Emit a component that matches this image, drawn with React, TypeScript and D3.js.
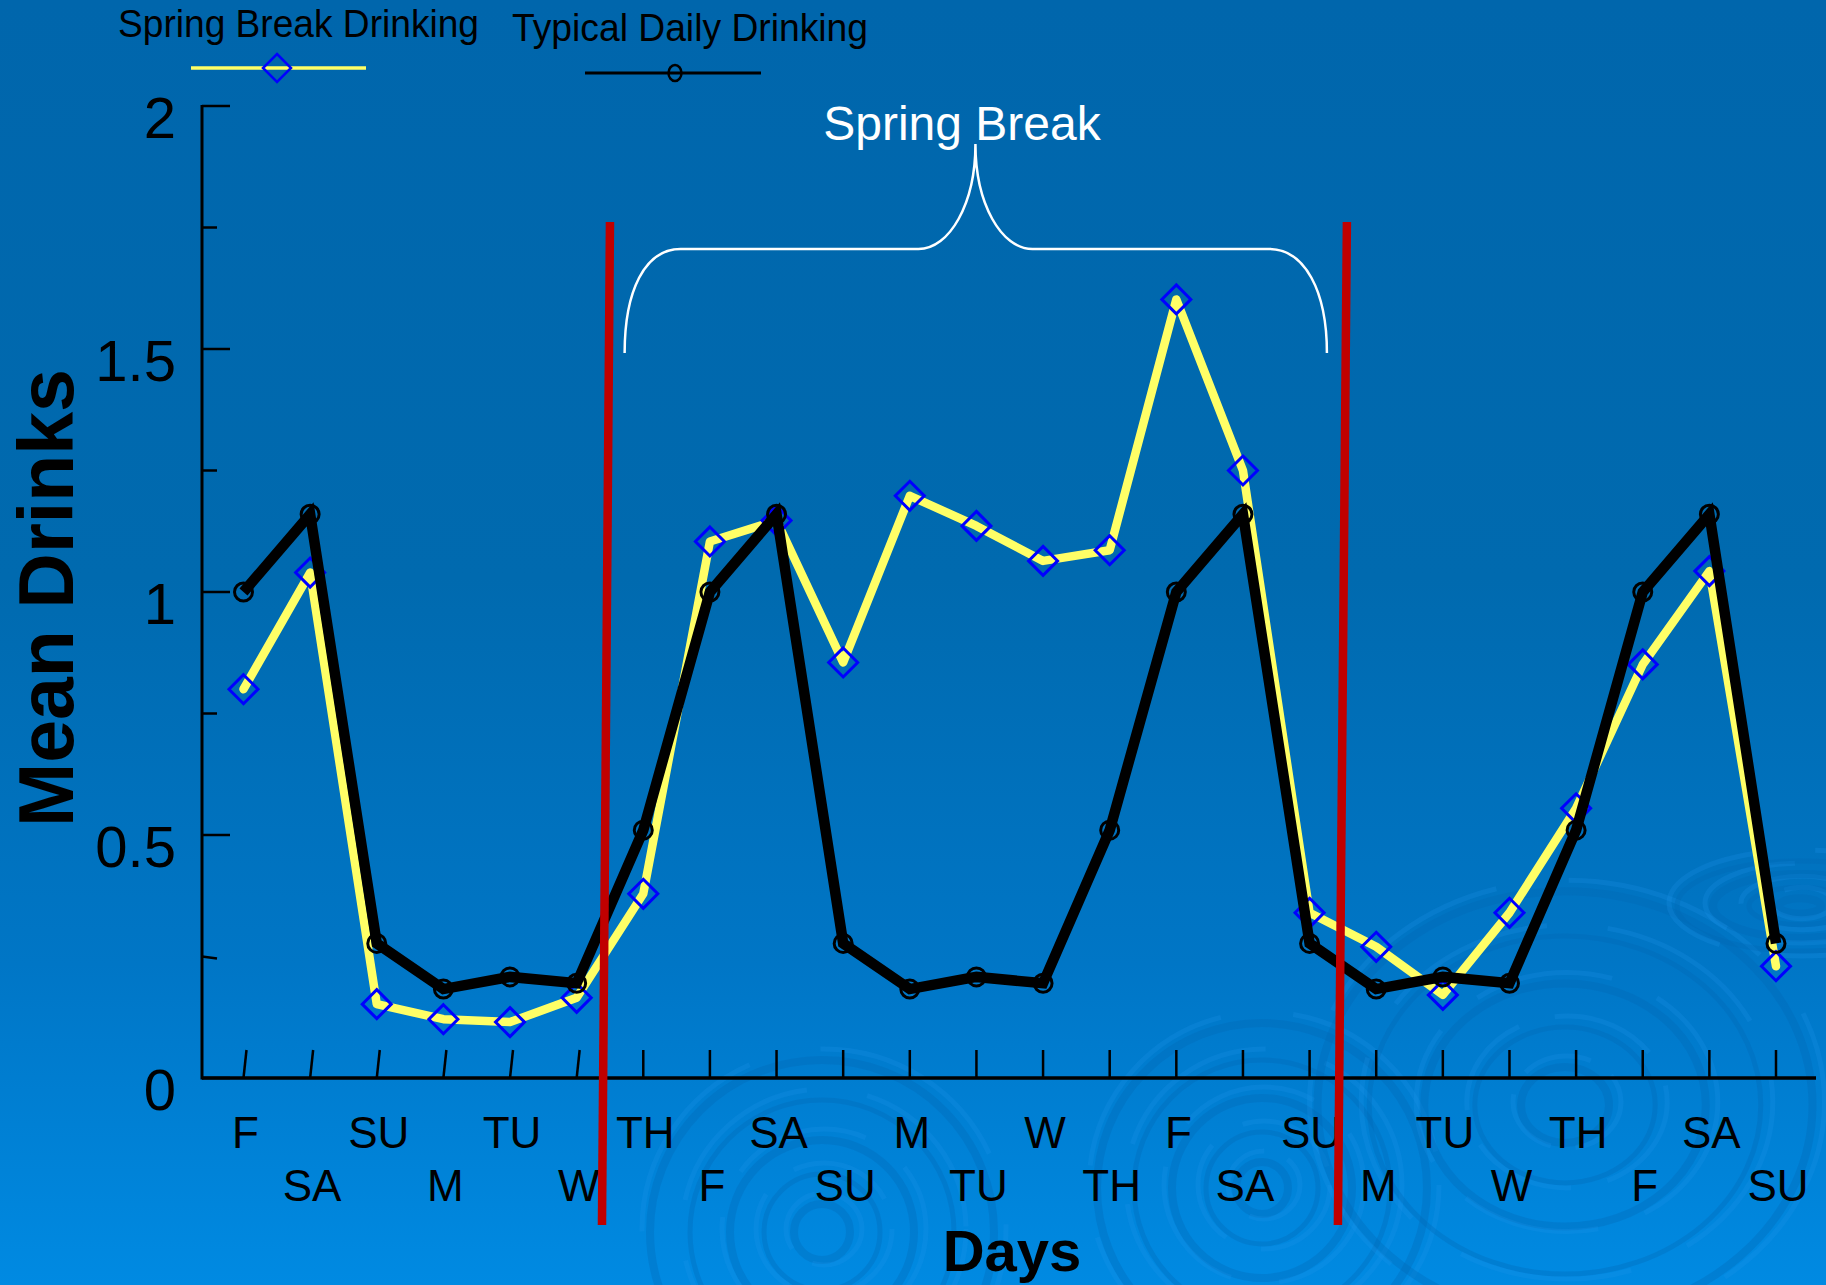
import React from "react";
import * as d3 from "d3";

// Day labels along the x axis (three-week window)
const days = [
  "F", "SA", "SU", "M", "TU", "W", "TH",
  "F", "SA", "SU", "M", "TU", "W", "TH",
  "F", "SA", "SU", "M", "TU", "W", "TH",
  "F", "SA", "SU",
];

// Mean drinks per day during the spring-break period
const springBreakDrinking = [
  0.8, 1.04, 0.152, 0.121, 0.115, 0.165, 0.379,
  1.104, 1.147, 0.855, 1.198, 1.136, 1.064, 1.086,
  1.602, 1.25, 0.34, 0.27, 0.171, 0.34, 0.555,
  0.851, 1.043, 0.23,
];

// Mean drinks per day on a typical week
const typicalDailyDrinking = [
  1.0, 1.16, 0.277, 0.183, 0.208, 0.195, 0.51,
  1.0, 1.16, 0.277, 0.183, 0.208, 0.195, 0.51,
  1.0, 1.16, 0.277, 0.183, 0.208, 0.195, 0.51,
  1.0, 1.16, 0.277,
];

const yMajorTicks = [0, 0.5, 1, 1.5, 2];
const yMinorTicks = [0.25, 0.75, 1.25, 1.75];

// Spring break boundaries (in day-index units) and brace extent
const breakBounds = [5.5, 16.5];
const braceSpan = [5.72, 16.26];
const braceTip = 11;

const W = 1826;
const H = 1285;
const FONT = "'Liberation Sans', Arial, Helvetica, sans-serif";

const xs = d3.scaleLinear().domain([0, days.length - 1]).range([243.5, 1776]);
const ys = d3.scaleLinear().domain([0, 2]).range([1078, 106]);

const lineGen = d3
  .line<number>()
  .x((_, i) => xs(i))
  .y((d) => ys(d));

function diamondPath(cx: number, cy: number, r: number) {
  return `M${cx},${cy - r}L${cx + r},${cy}L${cx},${cy + r}L${cx - r},${cy}Z`;
}

// Soft water-ripple decoration in the background
function Ripples() {
  const groups = [
    { cx: 822, cy: 1232, radii: [28, 58, 92, 132, 172], sx: 1.0, sy: 1.0 },
    { cx: 1262, cy: 1188, radii: [26, 56, 90, 128, 165], sx: 1.0, sy: 1.0 },
    { cx: 1565, cy: 1105, radii: [40, 82, 128, 178, 225], sx: 1.1, sy: 0.95 },
    { cx: 1800, cy: 906, radii: [14, 34, 58, 82], sx: 1.5, sy: 0.55 },
  ];
  return (
    <g>
      {groups.map((g, gi) =>
        g.radii.map((r, ri) => (
          <g key={`${gi}-${ri}`}>
            <ellipse
              cx={g.cx}
              cy={g.cy}
              rx={r * g.sx}
              ry={r * g.sy}
              fill="none"
              stroke="#0068b4"
              strokeOpacity={0.3}
              strokeWidth={ri % 2 === 0 ? 8 : 5}
            />
            <ellipse
              cx={g.cx + 2}
              cy={g.cy - 3}
              rx={r * g.sx + 10}
              ry={r * g.sy + 8}
              fill="none"
              stroke="#1e98ee"
              strokeOpacity={0.22}
              strokeWidth={5}
              strokeDasharray={`${70 + ri * 35} ${25 + ri * 12}`}
            />
          </g>
        ))
      )}
    </g>
  );
}

export default function App() {
  const y0 = ys(0);
  const axisLeft = 202;
  const axisRight = 1816;
  const braceY = 249;
  const braceBottom = 353;
  const braceTop = 144;
  const bl = xs(braceSpan[0]);
  const br = xs(braceSpan[1]);
  const bt = xs(braceTip) - 1;
  const bracePath =
    `M${bl},${braceBottom} C${bl},${braceBottom - 62} ${bl + 20},${braceY} ${bl + 56},${braceY}` +
    ` L${bt - 57},${braceY} C${bt - 26},${braceY} ${bt},${braceY - 45} ${bt},${braceTop}` +
    ` C${bt},${braceY - 45} ${bt + 26},${braceY} ${bt + 57},${braceY}` +
    ` L${br - 58},${braceY} C${br - 22},${braceY} ${br},${braceBottom - 62} ${br},${braceBottom}`;

  return (
    <svg
      width={W}
      height={H}
      viewBox={`0 0 ${W} ${H}`}
      style={{ position: "absolute", left: 0, top: 0, display: "block" }}
      fontFamily={FONT}
    >
      <defs>
        <linearGradient id="bg" x1="0" y1="0" x2="0" y2="1">
          <stop offset="0" stopColor="#0066ac" />
          <stop offset="0.45" stopColor="#006aaf" />
          <stop offset="0.75" stopColor="#0076c6" />
          <stop offset="1" stopColor="#008ae2" />
        </linearGradient>
      </defs>
      <rect x={0} y={0} width={W} height={H} fill="url(#bg)" />
      <Ripples />

      {/* Legend */}
      <text x={118} y={37} fontSize={38} fill="#000" textLength={361} lengthAdjust="spacingAndGlyphs">
        Spring Break Drinking
      </text>
      <line x1={191} x2={366} y1={68} y2={68} stroke="#ffff66" strokeWidth={3.5} />
      <path d={diamondPath(277, 68, 14)} fill="none" stroke="#0000ff" strokeWidth={2.5} />
      <text x={512} y={41} fontSize={38} fill="#000" textLength={356} lengthAdjust="spacingAndGlyphs">
        Typical Daily Drinking
      </text>
      <line x1={585} x2={761} y1={73} y2={73} stroke="#000" strokeWidth={3} />
      <ellipse cx={675} cy={73} rx={6.5} ry={8} fill="none" stroke="#000" strokeWidth={2.5} />

      {/* Y axis */}
      <line x1={axisLeft} x2={axisLeft} y1={ys(2) - 1} y2={y0 + 1.5} stroke="#000" strokeWidth={3} />
      {yMajorTicks.map((t) => (
        <g key={`ym${t}`}>
          <line x1={axisLeft} x2={axisLeft + 28} y1={ys(t)} y2={ys(t)} stroke="#000" strokeWidth={2.5} />
          <text x={176} y={ys(t) + 32} fontSize={58} textAnchor="end" fill="#000">
            {String(t)}
          </text>
        </g>
      ))}
      {yMinorTicks.map((t) => (
        <line key={`yn${t}`} x1={axisLeft} x2={axisLeft + 15} y1={ys(t)} y2={ys(t) + (t === 0.25 ? 2 : 0)} stroke="#000" strokeWidth={2.5} />
      ))}
      <text
        transform={`translate(73, 598) rotate(-90)`}
        fontSize={77}
        fontWeight="bold"
        textAnchor="middle"
        fill="#000"
      >
        Mean Drinks
      </text>

      {/* X axis */}
      <line x1={axisLeft} x2={axisRight} y1={y0} y2={y0} stroke="#000" strokeWidth={3.5} />
      {days.map((d, i) => (
        <line
          key={`xt${i}`}
          x1={xs(i)}
          x2={xs(i) + (i < 6 ? 3 : 0)}
          y1={y0}
          y2={y0 - 28}
          stroke="#000"
          strokeWidth={2.5}
        />
      ))}
      {days.map((d, i) => (
        <text
          key={`xl${i}`}
          x={xs(i) + 2}
          y={i % 2 === 0 ? 1148 : 1201}
          fontSize={44}
          textAnchor="middle"
          fill="#000"
        >
          {d}
        </text>
      ))}
      <text x={1012} y={1271} fontSize={58} fontWeight="bold" textAnchor="middle" fill="#000">
        Days
      </text>

      {/* Series */}
      <path
        d={lineGen(springBreakDrinking) || ""}
        fill="none"
        stroke="#ffff66"
        strokeWidth={8.5}
        strokeLinejoin="round"
        strokeLinecap="round"
      />
      {springBreakDrinking.map((v, i) => (
        <path key={`dm${i}`} d={diamondPath(xs(i), ys(v), 14.5)} fill="none" stroke="#0000ff" strokeWidth={3} />
      ))}
      <path
        d={lineGen(typicalDailyDrinking) || ""}
        fill="none"
        stroke="#000"
        strokeWidth={10.5}
        strokeLinejoin="miter"
        strokeLinecap="butt"
      />
      {typicalDailyDrinking.map((v, i) => (
        <circle key={`cm${i}`} cx={xs(i)} cy={ys(v)} r={9} fill="none" stroke="#000" strokeWidth={3} />
      ))}

      {/* Spring break annotation */}
      <path d={bracePath} fill="none" stroke="#fff" strokeWidth={2.5} />
      <text x={962} y={140} fontSize={48} textAnchor="middle" fill="#fff">
        Spring Break
      </text>
      <line x1={xs(breakBounds[0])} x2={xs(breakBounds[0]) - 8} y1={222} y2={1225} stroke="#c00000" strokeWidth={8.5} />
      <line x1={xs(breakBounds[1]) + 4} x2={xs(breakBounds[1]) - 5} y1={222} y2={1225} stroke="#c00000" strokeWidth={8.5} />
    </svg>
  );
}
